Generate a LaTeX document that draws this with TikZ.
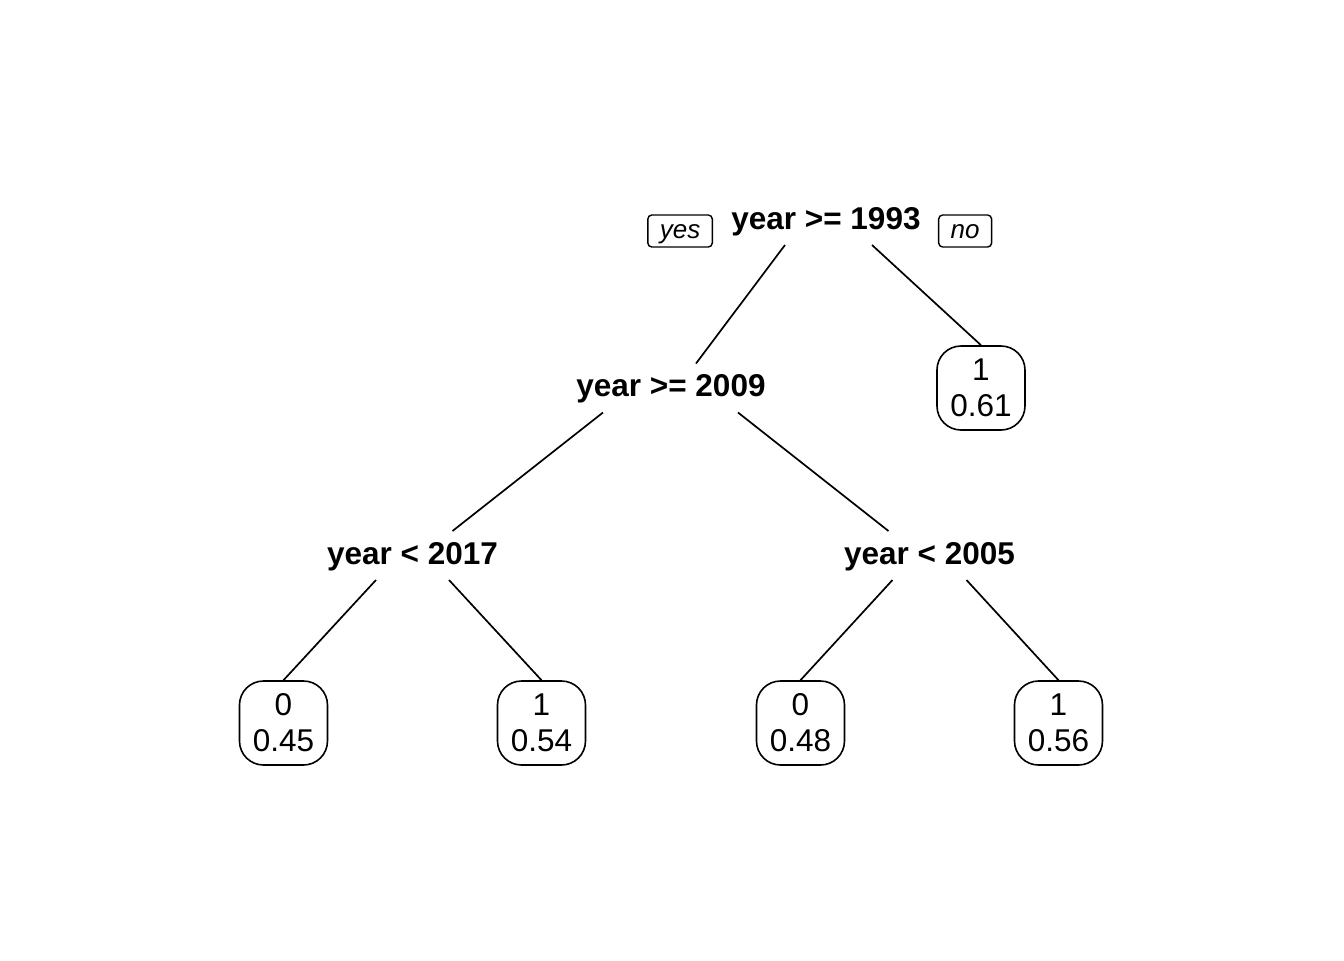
\documentclass[tikz,border=0pt]{standalone}
\usepackage{fontspec}
\setmainfont{Liberation Sans}
\usetikzlibrary{calc,positioning}
\tikzset{
  split/.style={font=\bfseries\fontsize{15.75}{18}\selectfont, inner sep=0pt,
    text height=14.3pt, text depth=3.3pt},
  leaf/.style={draw, line width=0.8pt, rounded corners=12pt, align=center,
    minimum width=44pt, minimum height=42pt, inner sep=2pt,
    font=\fontsize{15.75}{18}\selectfont, yshift=-1.25pt},
  tag/.style={draw, line width=0.7pt, rounded corners=2pt, inner xsep=6pt,
    inner ysep=0pt, minimum height=16pt, text height=9.8pt, text depth=2.7pt,
    font=\itshape\fontsize{13}{15}\selectfont},
  toleaf/.style={edge from parent path={($(\tikzparentnode)+(#1,-27)$) -- (\tikzchildnode.north)}},
  tosplit/.style 2 args={edge from parent path={($(\tikzparentnode)+(#1,-27)$) -- ($(\tikzchildnode)+(#2,22)$)}}
}
\begin{document}
\begin{tikzpicture}[x=0.5pt, y=0.5pt, level distance=83.75pt,
    edge from parent/.style={draw, line width=0.85pt}]
  \useasboundingbox (-826,-742) rectangle (518,218);
  \node[split] (y1993) {year >= 1993}
    [level 1/.style={sibling distance=155pt},
     level 2/.style={sibling distance=258.5pt},
     level 3/.style={sibling distance=129pt}]
    child[tosplit={-41}{25}]{node[split] (y2009) {year >= 2009}
      child[tosplit={-68}{40}]{node[split] (y2017) {year < 2017}
        child[toleaf=-36.5]{node[leaf] (l045) {0\\0.45}}
        child[toleaf=36.5]{node[leaf] (l054) {1\\0.54}}
        }
      child[tosplit={67}{-41}]{node[split] (y2005) {year < 2005}
        child[toleaf=-37]{node[leaf] (l048) {0\\0.48}}
        child[toleaf=37]{node[leaf] (l056) {1\\0.56}}
        }
      }
    child[toleaf=46]{node[leaf] (l061) {1\\0.61}};
  \node[tag, left=9pt of y1993, yshift=-6.5pt] (yes) {yes};
  \node[tag, right=8.5pt of y1993, yshift=-6.5pt] (no) {no};
\end{tikzpicture}
\end{document}
